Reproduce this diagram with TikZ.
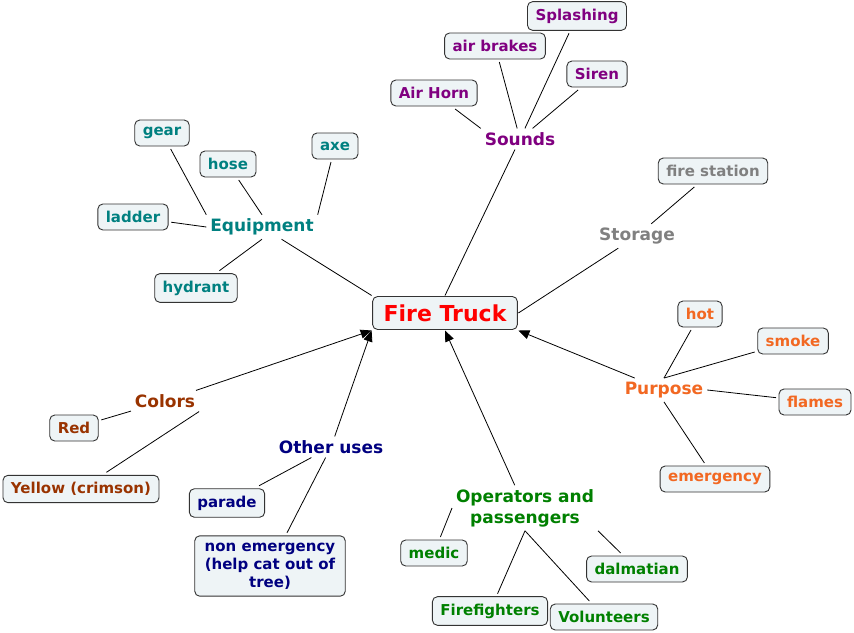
\documentclass[tikz,border=0pt]{standalone}
\usepackage{fontspec}
\setmainfont{DejaVu Sans}
\usetikzlibrary{arrows.meta}
\definecolor{ftfill}{RGB}{238,244,246}
\definecolor{ftedge}{RGB}{51,51,51}
\definecolor{ftpurple}{RGB}{128,0,128}
\definecolor{ftteal}{RGB}{0,128,128}
\definecolor{ftgray}{RGB}{128,128,128}
\definecolor{ftorange}{RGB}{242,104,34}
\definecolor{ftbrown}{RGB}{153,51,0}
\definecolor{ftnavy}{RGB}{0,0,128}
\definecolor{ftgreen}{RGB}{0,128,0}
\begin{document}
\begin{tikzpicture}[x=1pt, y=-1pt,
  ftbox/.style = {draw=ftedge, fill=ftfill, rounded corners=5pt, line width=0.9pt,
    font=\fontsize{15}{18}\selectfont\bfseries, inner xsep=8pt, inner ysep=7pt,
    minimum height=26pt, outer sep=3pt, align=center},
  ftroot/.style = {ftbox, text=red, font=\fontsize{22}{26}\selectfont\bfseries,
    inner xsep=11pt, minimum height=33pt, outer sep=1pt},
  ftlbl/.style = {font=\fontsize{17}{21}\selectfont\bfseries, inner sep=2pt,
    outer sep=2pt, align=center},
  ftline/.style = {line width=0.8pt},
  ftarrow/.style = {line width=0.8pt, -{Triangle[length=11pt,width=9pt]}}
]
  \fill[white] (0,0) rectangle (854,632);
  \useasboundingbox (0,0) rectangle (854,632);
  % centre
  \node[ftroot] (ft) at (445,313) {Fire Truck};
  % sounds
  \node[ftlbl, text=ftpurple] (sounds) at (520,139) {Sounds};
  \node[ftbox, text=ftpurple] (airhorn) at (434,93) {Air Horn};
  \node[ftbox, text=ftpurple] (airbrakes) at (495,46) {air brakes};
  \node[ftbox, text=ftpurple] (splashing) at (577,16) {Splashing};
  \node[ftbox, text=ftpurple] (siren) at (597,74) {Siren};
  \draw[ftline] (airhorn) -- (sounds.north west);
  \draw[ftline] (airbrakes) -- (sounds);
  \draw[ftline] (splashing) -- (sounds);
  \draw[ftline] (siren) -- (sounds);
  \draw[ftline] (sounds) -- (ft.north);
  % equipment
  \node[ftlbl, text=ftteal] (equip) at (262,227) {Equipment};
  \node[ftbox, text=ftteal] (gear) at (162,133) {gear};
  \node[ftbox, text=ftteal] (hose) at (228,164) {hose};
  \node[ftbox, text=ftteal] (axe) at (335,146) {axe};
  \node[ftbox, text=ftteal] (ladder) at (133,217) {ladder};
  \node[ftbox, text=ftteal] (hydrant) at (196,288) {hydrant};
  \draw[ftline] (gear) -- (equip.north west);
  \draw[ftline] (hose) -- (equip.north);
  \draw[ftline] (axe) -- (equip.north east);
  \draw[ftline] (ladder) -- (equip.west);
  \draw[ftline] (hydrant) -- (equip.south);
  \draw[ftline] (equip) -- (ft.north west);
  % storage
  \node[ftlbl, text=ftgray] (storage) at (637,236) {Storage};
  \node[ftbox, text=ftgray] (firestation) at (713,171) {fire station};
  \draw[ftline] (firestation) -- (storage);
  \draw[ftline] (storage) -- (ft.east);
  % purpose
  \node[ftlbl, text=ftorange] (purpose) at (664,390) {Purpose};
  \node[ftbox, text=ftorange] (hot) at (700,314) {hot};
  \node[ftbox, text=ftorange] (smoke) at (793,341) {smoke};
  \node[ftbox, text=ftorange] (flames) at (815,402) {flames};
  \node[ftbox, text=ftorange] (emergency) at (715,479) {emergency};
  \draw[ftline] (hot) -- (purpose.north);
  \draw[ftline] (smoke) -- (purpose.north);
  \draw[ftline] (flames) -- (purpose.east);
  \draw[ftline] (emergency) -- (purpose.south);
  \draw[ftarrow] (purpose) -- (ft.south east);
  % colors
  \node[ftlbl, text=ftbrown] (colors) at (165,401) {Colors};
  \node[ftbox, text=ftbrown] (red) at (74,428) {Red};
  \node[ftbox, text=ftbrown] (yellow) at (81,489) {Yellow (crimson)};
  \draw[ftline] (red) -- (colors);
  \draw[ftline] (yellow) -- (colors.south east);
  \draw[ftarrow] (colors) -- (ft.south west);
  % other uses
  \node[ftlbl, text=ftnavy] (other) at (331,447) {Other uses};
  \node[ftbox, text=ftnavy] (parade) at (227,503) {parade};
  \node[ftbox, text=ftnavy, inner xsep=10pt, inner ysep=7pt] (nonemerg) at (270,566)
    {non emergency\\(help cat out of\\tree)};
  \draw[ftline] (parade) -- (other);
  \draw[ftline] (nonemerg) -- (other);
  \draw[ftarrow] (other) -- (ft.south west);
  % operators
  \node[ftlbl, text=ftgreen] (ops) at (525,508) {Operators and\\passengers};
  \node[ftbox, text=ftgreen] (medic) at (434,553) {medic};
  \node[ftbox, text=ftgreen] (dalmatian) at (637,569) {dalmatian};
  \node[ftbox, text=ftgreen] (firefighters) at (490,611) {Firefighters};
  \node[ftbox, text=ftgreen] (volunteers) at (604,617) {Volunteers};
  \draw[ftline] (medic) -- (ops.west);
  \draw[ftline] (firefighters) -- (ops.south);
  \draw[ftline] (volunteers) -- (ops.south);
  \draw[ftline] (dalmatian) -- (ops.south east);
  \draw[ftarrow] (ops) -- (ft.south);
\end{tikzpicture}
\end{document}
